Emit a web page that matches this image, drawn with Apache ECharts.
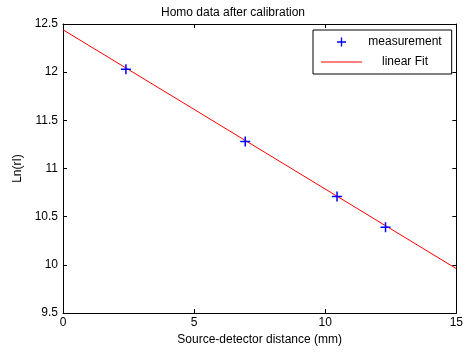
<!DOCTYPE html>
<html>
<head>
<meta charset="utf-8">
<script src="https://cdn.jsdelivr.net/npm/echarts@6/dist/echarts.min.js"></script>
<style>html,body{margin:0;padding:0;background:#fff;}#c{width:466px;height:354px;}</style>
</head>
<body>
<div id="c"></div>
<script>
var measX = [2.4, 6.95, 10.45, 12.3];
var measY = [12.03, 11.28, 10.71, 10.39];
var fitX = [0, 15];
var fitY = [12.44, 9.96];
var xTicks = [0, 5, 10, 15];
var yTicks = [9.5, 10, 10.5, 11, 11.5, 12, 12.5];

var font = 'Liberation Sans, Arial, sans-serif';
var chart = echarts.init(document.getElementById('c'));
var plus = 'path://M4.25,0h1.5v4.25h4.25v1.5h-4.25v4.25h-1.5v-4.25h-4.25v-1.5h4.25z';
var lineIcon = 'path://M0,0h41v1h-41z';
function ax(show, pos, min, max, interval, extra) {
  var o = {
    type: 'value', position: pos, min: min, max: max, interval: interval,
    axisLine: {show: true, onZero: false, lineStyle: {color: '#000', width: 1}},
    axisTick: {show: true, inside: true, length: 4, lineStyle: {color: '#000'}},
    axisLabel: {show: show, color: '#000', fontFamily: font, fontSize: 12},
    splitLine: {show: false}
  };
  for (var k in extra) o[k] = extra[k];
  return o;
}
chart.setOption({
  animation: false,
  backgroundColor: '#fff',
  title: {
    text: 'Homo data after calibration', left: 'center', top: 2,
    textStyle: {fontFamily: font, fontSize: 12, fontWeight: 'normal', color: '#000'}
  },
  grid: {left: 63, right: 7, top: 24, bottom: 41},
  legend: {
    orient: 'vertical', left: 313, top: 30,
    backgroundColor: '#fff', borderColor: '#000', borderWidth: 1,
    padding: [6, 10, 6, 8], itemGap: 8, itemWidth: 41, itemHeight: 9,
    formatter: function (n) { return '{a|' + n + '}'; },
    textStyle: {fontFamily: font, fontSize: 12, color: '#000',
      rich: {a: {width: 76, align: 'center', fontFamily: font, fontSize: 12, color: '#000'}}},
    data: [
      {name: 'measurement', icon: plus, itemStyle: {color: '#0000ff'}},
      {name: 'linear Fit', icon: lineIcon, itemStyle: {color: '#ff0000'}}
    ]
  },
  xAxis: [
    ax(true, 'bottom', xTicks[0], xTicks[xTicks.length - 1], 5, {
      name: 'Source-detector distance (mm)', nameLocation: 'middle', nameGap: 20,
      nameTextStyle: {fontFamily: font, fontSize: 12, color: '#000'},
      axisLabel: {show: true, color: '#000', fontFamily: font, fontSize: 12, margin: 4}
    }),
    ax(false, 'top', xTicks[0], xTicks[xTicks.length - 1], 5, {})
  ],
  yAxis: [
    ax(true, 'left', yTicks[0], yTicks[yTicks.length - 1], 0.5, {
      name: 'Ln(rI)', nameLocation: 'middle', nameGap: 30, nameRotate: 90,
      nameTextStyle: {fontFamily: font, fontSize: 12, color: '#000'},
      axisLabel: {show: true, color: '#000', fontFamily: font, fontSize: 12, margin: 5}
    }),
    ax(false, 'right', yTicks[0], yTicks[yTicks.length - 1], 0.5, {})
  ],
  series: [
    {
      name: 'linear Fit', type: 'line', symbol: 'none',
      data: fitX.map(function (x, i) { return [x, fitY[i]]; }),
      lineStyle: {color: '#ff0000', width: 1}, itemStyle: {color: '#ff0000'}
    },
    {
      name: 'measurement', type: 'scatter', symbol: plus, symbolSize: 10,
      data: measX.map(function (x, i) { return [x, measY[i]]; }),
      itemStyle: {color: '#0000ff', opacity: 1}, z: 3
    }
  ]
});
</script>
</body>
</html>
